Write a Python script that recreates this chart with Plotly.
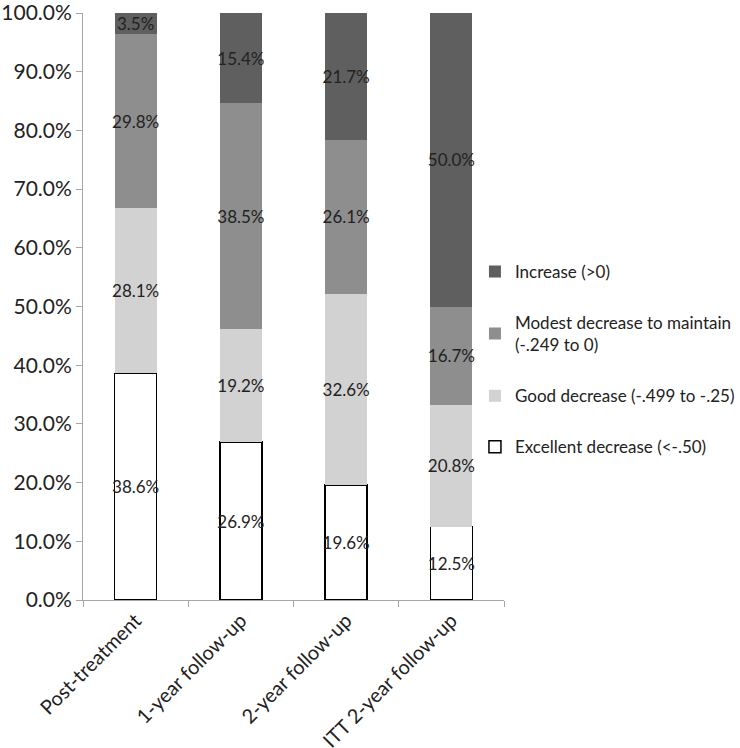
import plotly.graph_objects as go

categories = ["Post-treatment", "1-year follow-up", "2-year follow-up", "ITT 2-year follow-up"]
excellent = [38.6, 26.9, 19.6, 12.5]
good = [28.1, 19.2, 32.6, 20.8]
modest = [29.8, 38.5, 26.1, 16.7]
increase = [3.5, 15.4, 21.7, 50.0]

series = [
    ("Excellent decrease (<-.50)", excellent, "#ffffff", "#000000", 1.5),
    ("Good decrease (-.499 to -.25)", good, "#d2d2d2", "#d2d2d2", 0),
    ("Modest decrease to maintain<br>(-.249 to 0)", modest, "#8e8e8e", "#8e8e8e", 0),
    ("Increase (>0)", increase, "#5f5f5f", "#5f5f5f", 0),
]

fig = go.Figure()
for i, (name, vals, col, lcol, lw) in enumerate(series):
    fig.add_trace(go.Bar(
        name=name,
        x=categories,
        y=vals,
        text=[f"{v:.1f}%" for v in vals],
        textposition="inside",
        insidetextanchor="middle",
        constraintext="none",
        textangle=0,
        textfont=dict(color="#222222", size=17, family="Lato"),
        marker=dict(color=col, line=dict(color=lcol, width=lw)),
        legendgroup=str(i),
        legendrank=10 - i,
    ))

fig.update_layout(
    barmode="stack",
    bargap=0.6,
    width=740,
    height=748,
    margin=dict(l=83, r=236, t=13, b=148, autoexpand=False),
    plot_bgcolor="white",
    paper_bgcolor="white",
    font=dict(family="Lato", size=20, color="#222222"),
    showlegend=True,
    legend=dict(
        x=0.931, xanchor="left",
        y=0.41, yanchor="middle",
        traceorder="grouped",
        tracegroupgap=26,
        font=dict(size=17, family="Lato", color="#222222"),
        bgcolor="rgba(0,0,0,0)",
    ),
)

fig.update_yaxes(
    range=[0, 100],
    tickvals=[0, 10, 20, 30, 40, 50, 60, 70, 80, 90, 100],
    ticktext=[f"{v:.1f}%" for v in range(0, 101, 10)],
    showgrid=False,
    showline=True,
    linecolor="#a6a6a6",
    linewidth=1,
    ticks="outside",
    ticklen=6,
    tickcolor="#a6a6a6",
    zeroline=False,
    automargin=False,
    ticklabeloverflow="allow",
    tickfont=dict(size=21),
)
fig.update_xaxes(
    tickangle=-45,
    showgrid=False,
    showline=True,
    linecolor="#a6a6a6",
    linewidth=1,
    ticks="outside",
    ticklen=6,
    tickcolor="#a6a6a6",
    tickson="boundaries",
    automargin=False,
    ticklabeloverflow="allow",
    tickfont=dict(size=20),
)

# drop the default 8px page margin so the figure fills the window
fig.write_html("out.html", config={"displayModeBar": False},
               post_script="document.body.style.margin='0px';")
